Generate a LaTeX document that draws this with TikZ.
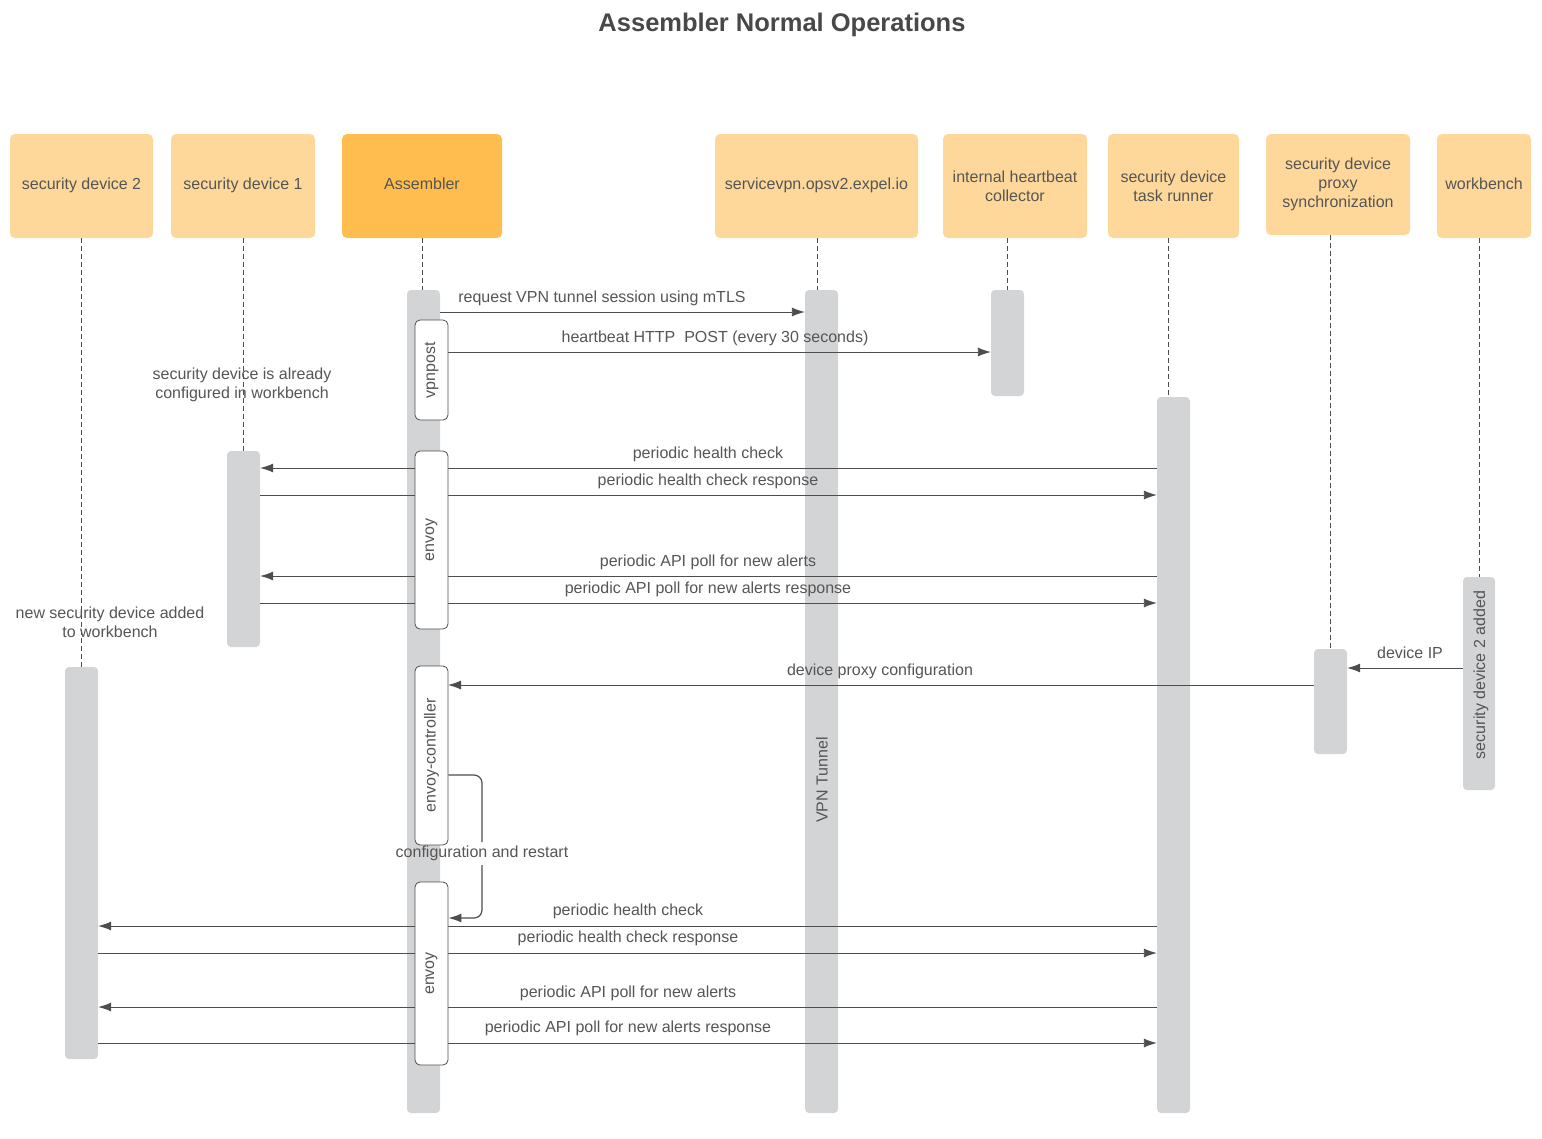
\documentclass[tikz,border=0pt]{standalone}
\usepackage{fontspec}
\setmainfont{Liberation Sans}
\usetikzlibrary{arrows.meta}
\definecolor{hdr}{HTML}{FED89B}
\definecolor{asmc}{HTML}{FFBD4F}
\definecolor{barc}{HTML}{D3D4D6}
\definecolor{txt}{HTML}{555555}
\definecolor{ln}{HTML}{4D4D4D}
\tikzset{
 hdrbox/.style={fill=hdr, rounded corners=5pt, align=center, text=txt, font=\fontsize{16}{19}\selectfont, inner sep=0pt, minimum height=104pt},
 bar/.style={fill=barc, rounded corners=4pt, minimum width=33pt, inner sep=0pt},
 actbox/.style={fill=white, draw=ln, line width=0.8pt, rounded corners=5pt, minimum width=33pt, inner sep=0pt, text=txt},
 life/.style={draw=ln, dash pattern=on 5pt off 3pt, line width=0.8pt},
 msg/.style={draw=ln, line width=0.9pt, -{Latex[length=13pt,width=9pt]}},
 plainline/.style={draw=ln, line width=0.9pt},
 lbl/.style={text=txt, font=\fontsize{16}{19}\selectfont, inner sep=0pt, align=center},
}
\begin{document}
\begin{tikzpicture}[x=1pt,y=-1pt]
\useasboundingbox (0,0) rectangle (1542,1138);
% title
\node[text=txt!85!black, font=\fontsize{25.5}{30}\selectfont\bfseries, inner sep=0pt] (title) at (782,25) {Assembler Normal Operations};
% headers
\node[hdrbox, minimum width=143pt] (h1) at (81.5,186) {\strut security device 2};
\node[hdrbox, minimum width=144pt] (h2) at (243,186) {\strut security device 1};
\node[hdrbox, fill=asmc, minimum width=160pt] (h3) at (422,186) {\strut Assembler};
\node[hdrbox, minimum width=203pt] (h4) at (816.5,186) {\strut servicevpn.opsv2.expel.io};
\node[hdrbox, minimum width=144pt] (h5) at (1015,186) {internal heartbeat\\collector};
\node[hdrbox, minimum width=131pt] (h6) at (1173.5,186) {security device\\task runner};
\node[hdrbox, minimum width=144pt, minimum height=101pt] (h7) at (1338,184.5) {security device\\proxy\\synchronization};
\node[hdrbox, minimum width=94pt] (h8) at (1484,186) {\strut workbench};
% bars
\node[bar, minimum height=392pt] (b1) at (81.5,863) {};
\node[bar, minimum height=196pt] (b2) at (243.5,549) {};
\node[bar, minimum height=823pt] (b3) at (423.5,701.5) {};
\node[bar, minimum height=823pt] (b4) at (821.5,701.5) {};
\node[bar, minimum height=106pt] (b5) at (1007.5,343) {};
\node[bar, minimum height=716pt] (b6) at (1173.5,755) {};
\node[bar, minimum height=105pt] (b7) at (1330.5,701.5) {};
\node[bar, minimum height=213pt, minimum width=32pt] (b8) at (1479,683.5) {};
\node[lbl, rotate=90] (vpnlbl) at (822,780) {VPN Tunnel};
\node[lbl, rotate=90] (sd2lbl) at (1481,675) {security device 2 added};
% lifelines
\draw[life] (b1.north |- h1.south) -- (b1.north);
\draw[life] (b2.north |- h2.south) -- (b2.north);
\draw[life] (h3.south) -- (h3.south |- b3.north);
\draw[life] (817,238) -- (817,290);
\draw[life] (b5.north |- h5.south) -- (b5.north);
\draw[life] (1168,238) -- (1168,397);
\draw[life] (b7.north |- h7.south) -- (b7.north);
\draw[life] (b8.north |- h8.south) -- (b8.north);
% notes
\node[lbl] (note1) at (242,385) {security device is already\\configured in workbench};
\node[lbl] (note2) at (110,622) {new security device added\\to workbench};
% messages
\draw[msg] (b3.east |- 0,312) -- (b4.west |- 0,312);
\node[lbl] (l1) at (602,298) {request VPN tunnel session using mTLS};
\draw[msg] (448,352) -- (b5.west |- 0,352);
\node[lbl] (l2) at (715,338) {heartbeat HTTP\ \ POST (every 30 seconds)};
\draw[msg] (b6.west |- 0,468) -- (b2.east |- 0,468);
\node[lbl] (l3) at (708,454) {periodic health check};
\draw[msg] (b2.east |- 0,495) -- (b6.west |- 0,495);
\node[lbl] (l4) at (708,481) {periodic health check response};
\draw[msg] (b6.west |- 0,576) -- (b2.east |- 0,576);
\node[lbl] (l5) at (708,562) {periodic API poll for new alerts};
\draw[msg] (b2.east |- 0,603) -- (b6.west |- 0,603);
\node[lbl] (l6) at (708,589) {periodic API poll for new alerts response};
\draw[msg] (b8.west |- 0,668) -- (b7.east |- 0,668);
\node[lbl] (l7) at (1410,653) {device IP};
\draw[msg] (b7.west |- 0,685) -- (448,685);
\node[lbl] (l8) at (880,671) {device proxy configuration};
\draw[msg] (b6.west |- 0,926) -- (b1.east |- 0,926);
\node[lbl] (l9) at (628,911) {periodic health check};
\draw[msg] (b1.east |- 0,953) -- (b6.west |- 0,953);
\node[lbl] (l10) at (628,938) {periodic health check response};
\draw[msg] (b6.west |- 0,1007) -- (b1.east |- 0,1007);
\node[lbl] (l11) at (628,993) {periodic API poll for new alerts};
\draw[msg] (b1.east |- 0,1043) -- (b6.west |- 0,1043);
\node[lbl] (l12) at (628,1028) {periodic API poll for new alerts response};
% activation boxes
\node[actbox, minimum height=100pt] (a1) at (431.5,370) {};
\node[lbl, rotate=90] at (a1) {vpnpost};
\node[actbox, minimum height=178pt] (a2) at (431.5,540) {};
\node[lbl, rotate=90] at (a2) {envoy};
\node[actbox, minimum height=179pt] (a3) at (431.5,755.5) {};
\node[lbl, rotate=90] at (a3) {envoy-controller};
\node[actbox, minimum height=183pt] (a4) at (431.5,973.5) {};
\node[lbl, rotate=90] at (a4) {envoy};
% self loop
\draw[plainline, line width=1.2pt, rounded corners=8pt] (a3.east |- 0,775) -| (482,842);
\draw[msg, line width=1.2pt, rounded corners=8pt] (482,865) |- (a4.east |- 0,918);
\node[lbl] (l13) at (482,853) {configuration and restart};
\end{tikzpicture}
\end{document}
